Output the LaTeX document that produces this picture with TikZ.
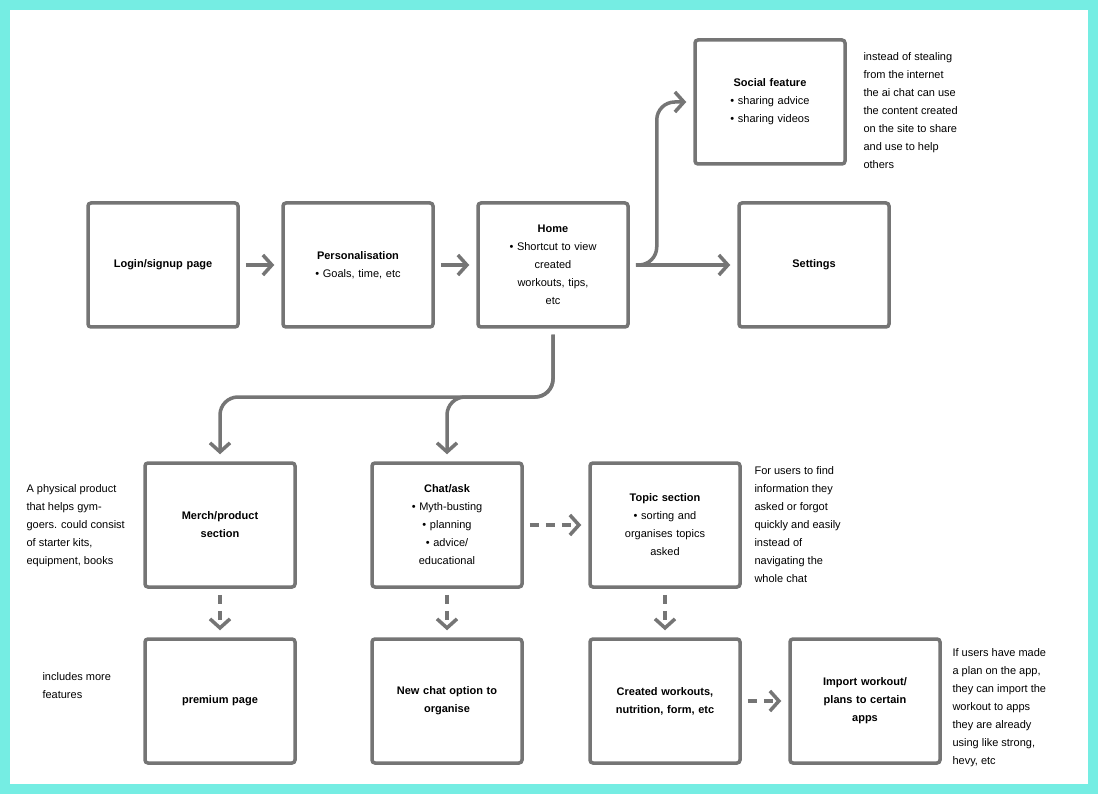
\documentclass[tikz,border=0pt]{standalone}
\usepackage{fontspec}
\setmainfont{Liberation Sans}
\usetikzlibrary{arrows.meta,positioning}
\definecolor{frame}{HTML}{75EDE3}
\definecolor{boxgray}{HTML}{757575}
\begin{document}
\begin{tikzpicture}[x=1pt,y=-1pt]
        \tikzstyle{screen}=[draw=boxgray, line width=3.5pt, rounded corners=3pt, minimum width=150pt, minimum height=124pt, align=center, font=\fontsize{11}{18}\selectfont, text width=130pt];
        \tikzstyle{flow}=[draw=boxgray, line width=3.5pt, rounded corners=18pt, shorten >=7pt, shorten <=6pt, -{Straight Barb[length=9pt,width=20pt]}];
        \tikzstyle{maybe}=[flow, dash pattern=on 9pt off 7pt];
        \tikzstyle{note}=[anchor=north west, align=left, font=\fontsize{11}{18}\selectfont];
        % Frame and background
        \fill[frame] (0,0) rectangle (1098,794);
        \fill[white] (10,10) rectangle (1088,784);
        \useasboundingbox (0,0) rectangle (1098,794);

        % Top row
        \node[screen] (login) at (163,265) {\textbf{Login/signup page}};
        \node[screen] (pers) at (358,265) {\textbf{Personalisation}\\ \textbullet\ Goals, time, etc};
        \node[screen] (home) at (553,265) {\textbf{Home}\\ \textbullet\ Shortcut to view\\ created\\ workouts, tips,\\ etc};
        \node[screen] (social) at (770,102) {\textbf{Social feature}\\ \textbullet\ sharing advice\\ \textbullet\ sharing videos};
        \node[screen] (settings) at (814,265) {\textbf{Settings}};

        % Middle row
        \node[screen] (merch) at (220,525) {\textbf{Merch/product}\\ \textbf{section}};
        \node[screen] (chat) at (447,525) {\textbf{Chat/ask}\\ \textbullet\ Myth-busting\\ \textbullet\ planning\\ \textbullet\ advice/\\ educational};
        \node[screen] (topic) at (665,525) {\textbf{Topic section}\\ \textbullet\ sorting and\\ organises topics\\ asked};

        % Bottom row
        \node[screen] (premium) at (220,701) {\textbf{premium page}};
        \node[screen] (newchat) at (447,701) {\textbf{New chat option to}\\ \textbf{organise}};
        \node[screen] (created) at (665,701) {\textbf{Created workouts,}\\ \textbf{nutrition, form, etc}};
        \node[screen] (import) at (865,701) {\textbf{Import workout/}\\ \textbf{plans to certain}\\ \textbf{apps}};

        % Notes
        \node[note] (n1) at (860,49) {instead of stealing\\ from the internet\\ the ai chat can use\\ the content created\\ on the site to share\\ and use to help\\ others};
        \node[note] (n2) at (23,481) {A physical product\\ that helps gym-\\ goers. could consist\\ of starter kits,\\ equipment, books};
        \node[note] (n3) at (39,669) {includes more\\ features};
        \node[note] (n4) at (751,463) {For users to find\\ information they\\ asked or forgot\\ quickly and easily\\ instead of\\ navigating the\\ whole chat};
        \node[note] (n5) at (949,645) {If users have made\\ a plan on the app,\\ they can import the\\ workout to apps\\ they are already\\ using like strong,\\ hevy, etc};

        % Solid connectors
        \draw[flow] (login) -- (pers);
        \draw[flow] (pers) -- (home);
        \draw[flow] (home) -- (settings);
        \draw[flow] (home.east) -- ++(27,0) |- (social.west);
        \draw[flow] (home.south) |- (300,397) -| (merch.north);
        \draw[flow] (home.south) |- (480,397) -| (chat.north);

        % Dashed connectors
        \draw[maybe] (chat) -- (topic);
        \draw[maybe] (merch) -- (premium);
        \draw[maybe] (chat) -- (newchat);
        \draw[maybe] (topic) -- (created);
        \draw[maybe] (created) -- (import);
\end{tikzpicture}
\end{document}
